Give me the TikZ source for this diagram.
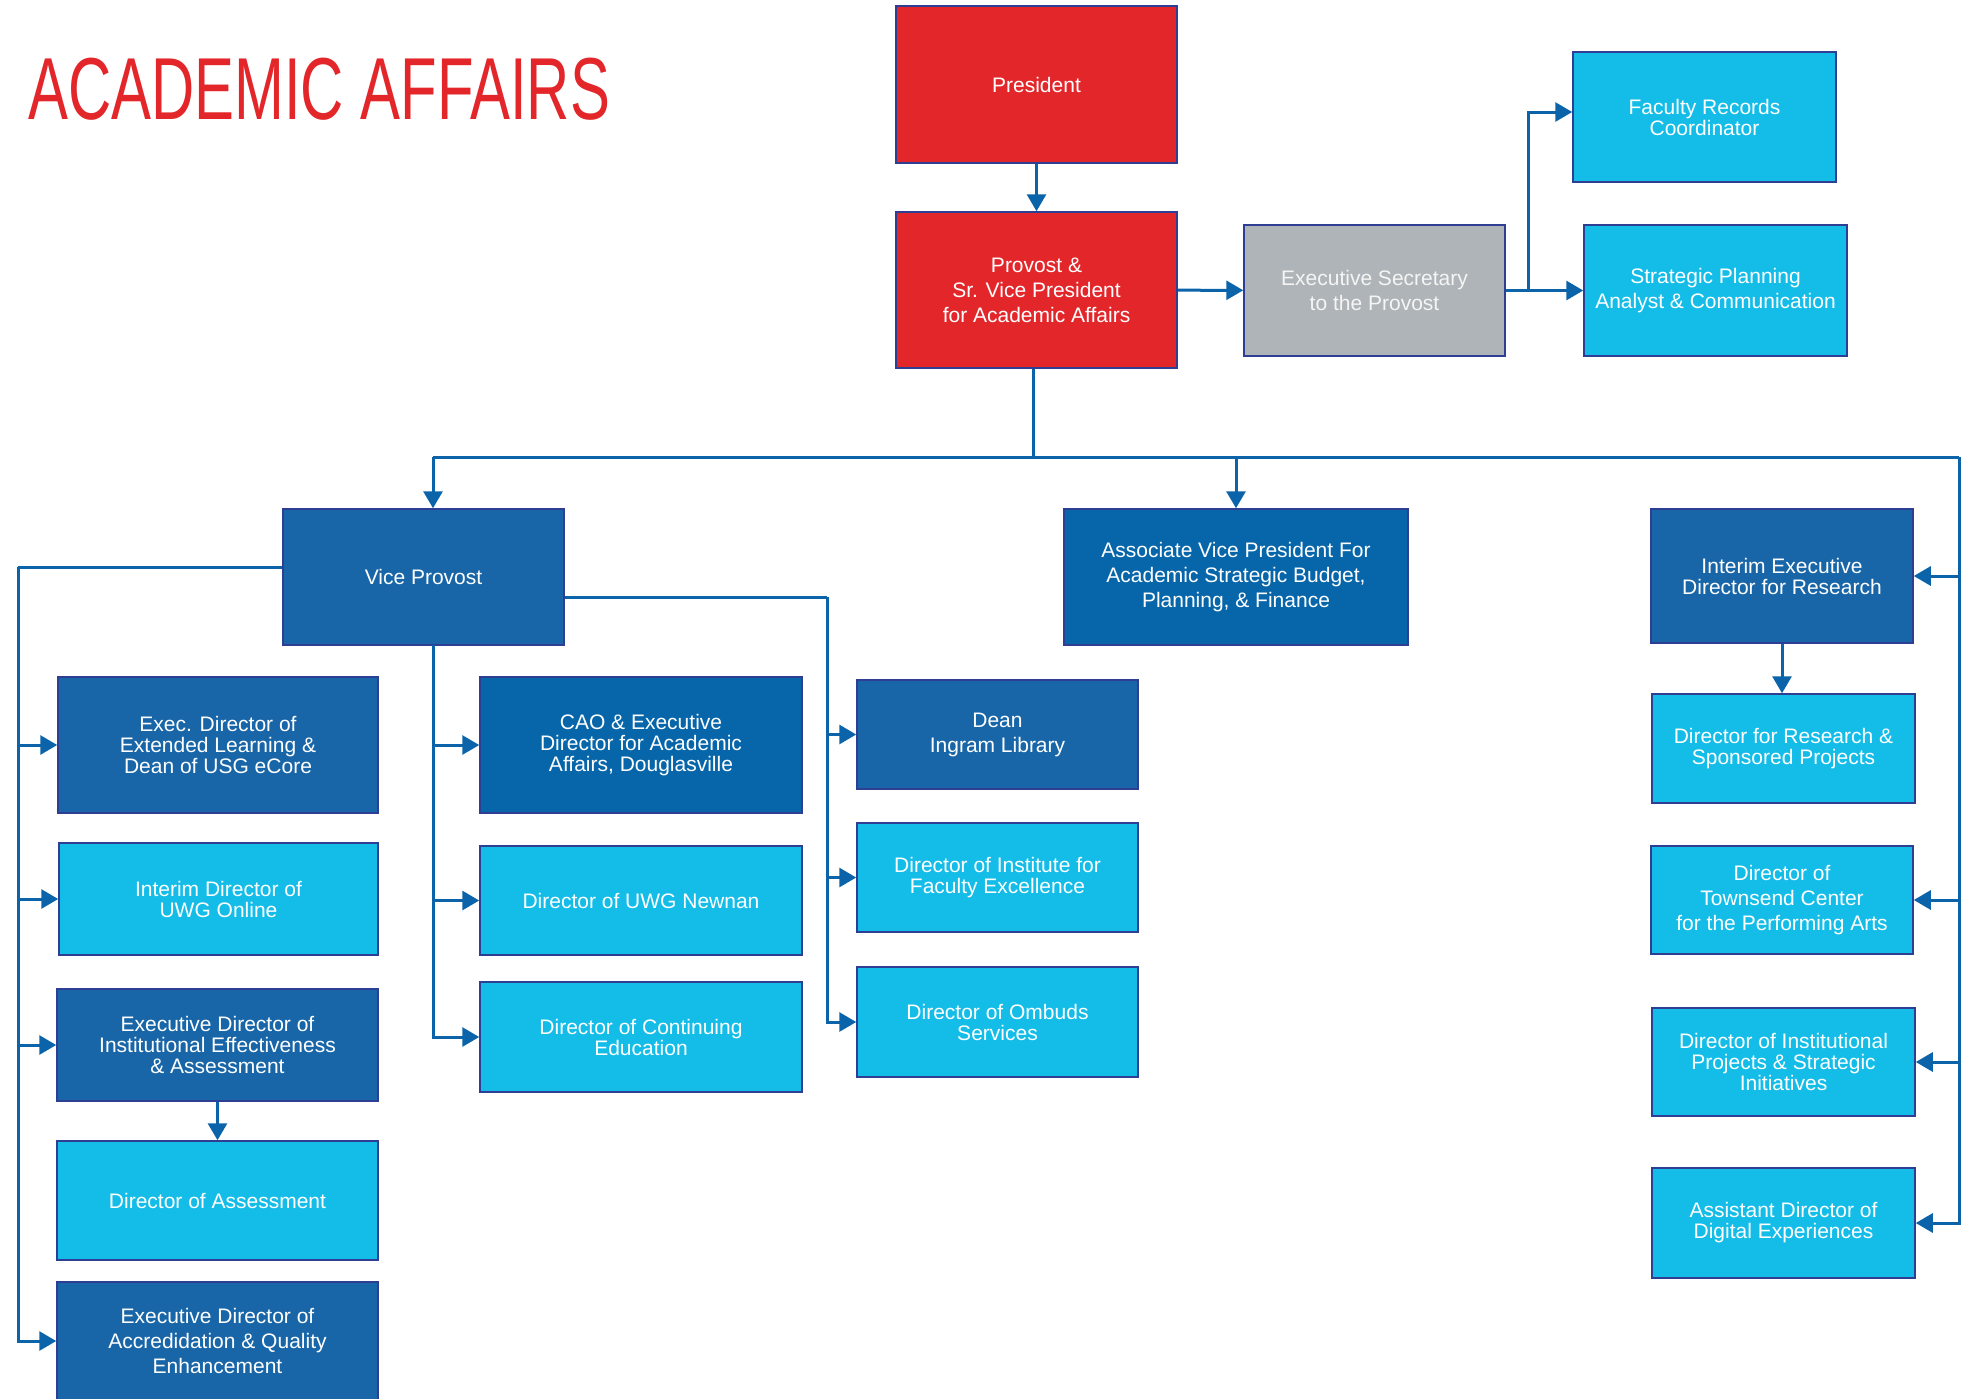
\documentclass[tikz,border=0pt]{standalone}
\usepackage{fontspec}
\setmainfont{Liberation Sans}
\newfontfamily\titlefont{Liberation Sans}[FakeStretch=0.68]
\usetikzlibrary{arrows.meta}

\definecolor{uwgred}{HTML}{E3262A}
\definecolor{navyblue}{HTML}{1866A8}
\definecolor{midblue}{HTML}{0766AA}
\definecolor{skyblue}{HTML}{14BDE8}
\definecolor{panelgrey}{HTML}{AEB4B7}
\definecolor{edgeblue}{HTML}{2E3E92}
\definecolor{wireblue}{HTML}{0B64A9}

\tikzset{
    box/.style={draw=edgeblue, line width=1.5, text=white, align=center,
        inner sep=2, font=\fontsize{21}{21}\selectfont},
    loose/.style={font=\fontsize{21}{25}\selectfont},
    wire/.style={draw=wireblue, line width=3},
    link/.style={wire, -{Triangle[length=17,width=19]}}
}

\begin{document}
\begin{tikzpicture}[x=1pt, y=-1pt]
    \useasboundingbox (0,0) rectangle (1970,1398);

    % Title
    \node[anchor=base west, inner sep=0, text=uwgred, font=\titlefont\fontsize{88}{88}\selectfont] (title) at (28,119) {ACADEMIC AFFAIRS};

    % Top of the chart
    \node[box, fill=uwgred, minimum width=281, minimum height=157] (pres) at (1036.5,84.5) {President};
    \node[box, loose, fill=uwgred, minimum width=281, minimum height=156] (prov) at (1036.5,290) {Provost \&\\Sr. Vice President\\for Academic Affairs};
    \node[box, loose, fill=panelgrey, text=white!92!gray, minimum width=261, minimum height=131] (sec) at (1374.5,290.5) {Executive Secretary\\to the Provost};
    \node[box, fill=skyblue, minimum width=263, minimum height=130] (frc) at (1704.5,117) {Faculty Records\\Coordinator};
    \node[box, loose, fill=skyblue, minimum width=263, minimum height=131] (spl) at (1715.5,290.5) {Strategic Planning\\Analyst \& Communication};

    \draw[link] (pres) -- (prov);
    \draw[link] (prov) -- (sec);
    \draw[link] (sec) -- (spl);
    \coordinate (sbr) at (1528,290);
    \draw[link] (sbr) |- ([yshift=5]frc.west);

    % Second row
    \node[box, fill=navyblue, minimum width=281, minimum height=136] (vp) at (423.5,577) {Vice Provost};
    \node[box, loose, fill=midblue, minimum width=344, minimum height=136] (avp) at (1236,577) {Associate Vice President For\\Academic Strategic Budget,\\Planning, \& Finance};
    \node[box, fill=navyblue, minimum width=262, minimum height=134] (ied) at (1782,576) {Interim Executive\\Director for Research};

    \coordinate (barl) at (433,457);
    \coordinate (barr) at (1959,457);
    \draw[wire] ([xshift=-3]prov.south) -- ([xshift=-3]prov.south |- barl);
    \draw[wire] (barl) -- (barr);
    \draw[link] (barl) -- (barl |- vp.north);
    \draw[link] (avp.north |- barl) -- (avp.north);

    % Research and right column
    \node[box, fill=skyblue, minimum width=263, minimum height=109] (drs) at (1783.5,748.5) {Director for Research \&\\Sponsored Projects};
    \node[box, loose, fill=skyblue, minimum width=262, minimum height=108] (tcp) at (1782,900) {Director of\\Townsend Center\\for the Performing Arts};
    \node[box, fill=skyblue, minimum width=263, minimum height=108] (ipr) at (1783.5,1062) {Director of Institutional\\Projects \& Strategic\\Initiatives};
    \node[box, fill=skyblue, minimum width=263, minimum height=110] (add) at (1783.5,1223) {Assistant Director of\\Digital Experiences};

    \draw[link] (ied) -- (ied |- drs.north);
    \foreach \n in {ied,tcp,ipr,add} {
        \draw[link] (barr) |- (\n.east);
    }

    % Vice Provost, left column
    \node[box, fill=navyblue, minimum width=320, minimum height=136] (ext) at (218,745) {Exec. Director of\\Extended Learning \&\\Dean of USG eCore};
    \node[box, fill=skyblue, minimum width=319, minimum height=112] (onl) at (218.5,899) {Interim Director of\\UWG Online};
    \node[box, fill=navyblue, minimum width=321, minimum height=112] (ief) at (217.5,1045) {Executive Director of\\Institutional Effectiveness\\\& Assessment};
    \node[box, fill=skyblue, minimum width=321, minimum height=119] (asm) at (217.5,1200.5) {Director of Assessment};
    \node[box, loose, fill=navyblue, minimum width=321, minimum height=118] (acc) at (217.5,1341) {Executive Director of\\Accredidation \& Quality\\Enhancement};

    \coordinate (lbus) at (18,567);
    \draw[wire] ([yshift=10]vp.west) -- (lbus);
    \foreach \n in {ext,onl,ief,acc} {
        \draw[link] (lbus) |- (\n.west);
    }
    \draw[link] (ief) -- (asm);

    % Vice Provost, middle column
    \node[box, fill=midblue, minimum width=322, minimum height=136] (cao) at (641,745) {CAO \& Executive\\Director for Academic\\Affairs, Douglasville};
    \node[box, fill=skyblue, minimum width=322, minimum height=109] (nwn) at (641,900.5) {Director of UWG Newnan};
    \node[box, fill=skyblue, minimum width=322, minimum height=110] (ced) at (641,1037) {Director of Continuing\\Education};

    \coordinate (mbus) at (433,645);
    \foreach \n in {cao,nwn,ced} {
        \draw[link] (mbus) |- (\n.west);
    }

    % Vice Provost, right column
    \node[box, loose, fill=navyblue, minimum width=281, minimum height=109] (din) at (997.5,734.5) {Dean\\Ingram Library};
    \node[box, fill=skyblue, minimum width=281, minimum height=109] (ife) at (997.5,877.5) {Director of Institute for\\Faculty Excellence};
    \node[box, fill=skyblue, minimum width=281, minimum height=110] (omb) at (997.5,1022) {Director of Ombuds\\Services};

    \coordinate (rbus) at (827,597);
    \draw[wire] ([yshift=-20]vp.east) -- (rbus);
    \foreach \n in {din,ife,omb} {
        \draw[link] (rbus) |- (\n.west);
    }

\end{tikzpicture}
\end{document}
